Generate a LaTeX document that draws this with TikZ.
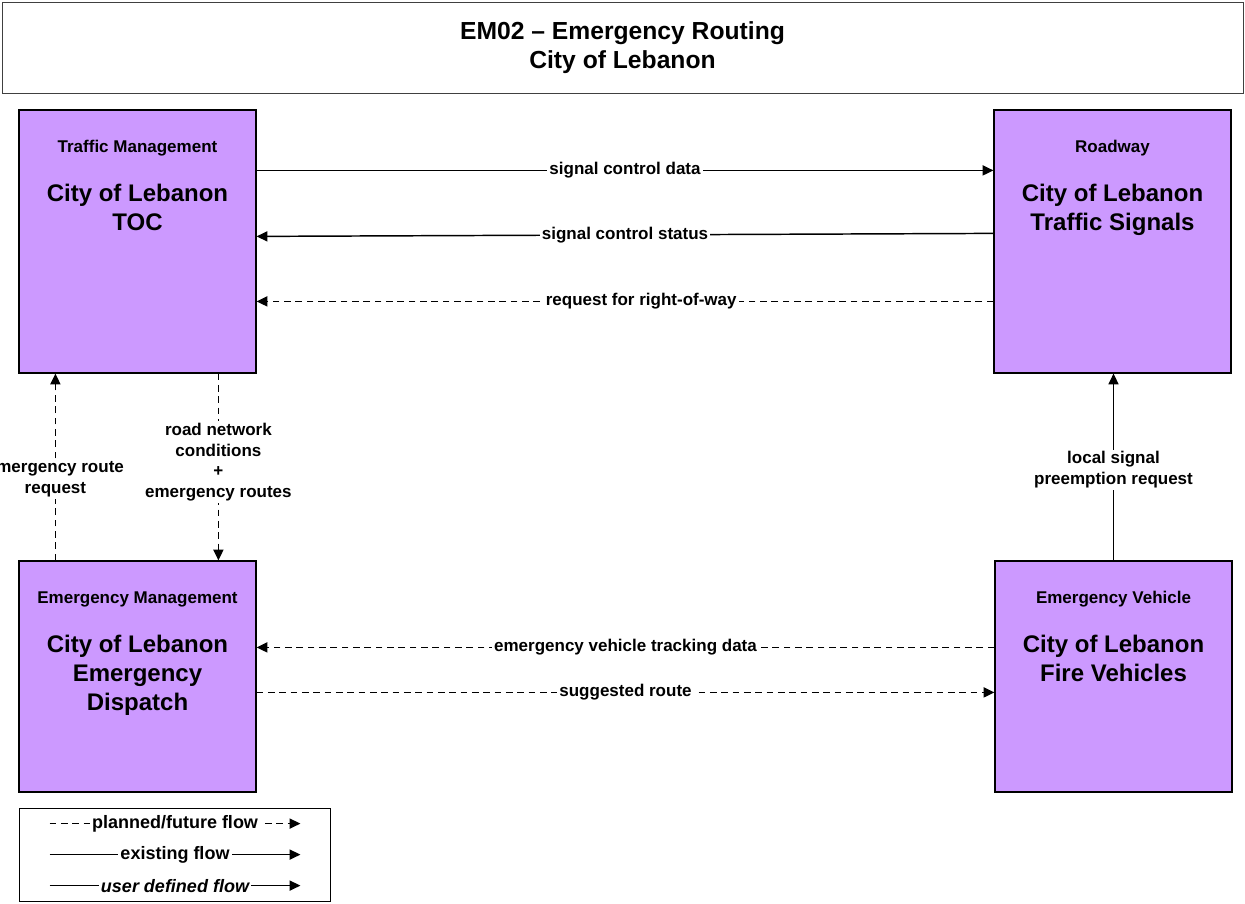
\documentclass[tikz,border=0pt]{standalone}
\usepackage{fontspec}
\setmainfont{Liberation Sans}
\usetikzlibrary{arrows.meta,calc}

\begin{document}
\begin{tikzpicture}[x=0.75pt, y=-0.75pt,
  box/.style={draw=black, line width=0.9pt, fill=cBox, inner sep=0pt,
    minimum width=177.75pt},
  catlbl/.style={font=\bfseries\fontsize{12.75}{15.6}\selectfont},
  namelbl/.style={font=\bfseries\fontsize{18}{21.75}\selectfont, align=center},
  flow/.style={line width=1.1pt, -{Triangle[length=8pt,width=7.5pt]}},
  planned/.style={flow, dash pattern=on 5pt off 3.5pt},
  flowlbl/.style={fill=white, inner sep=1.5pt, align=center,
    font=\bfseries\fontsize{12.75}{15.6}\selectfont},
  legendlbl/.style={flowlbl, font=\bfseries\fontsize{13.5}{16}\selectfont}]

% --- colors ---
\definecolor{cBox}{HTML}{CC99FF}

\useasboundingbox (0,0) rectangle (1245,903);

% --- title ---
\node[draw=black!75, line width=0.6pt, inner sep=0pt, align=center,
      minimum width=930.75pt, minimum height=68.25pt,
      font=\bfseries\fontsize{18.5}{21.75}\selectfont]
  (title) at (622.5,47.5) {EM02 – Emergency Routing\\City of Lebanon};

% --- elements ---
\node[box, minimum height=197.25pt] (toc)  at (137.5,241.5)  {};
\node[box, minimum height=197.25pt] (sig)  at (1112.5,241.5) {};
\node[box, minimum height=173.25pt] (disp) at (137.5,676.5)  {};
\node[box, minimum height=173.25pt] (fire) at (1113.5,676.5) {};

\foreach \bx/\cat/\name/\dy in
  {toc/Traffic Management/{City of Lebanon\\TOC}/98,
   sig/Roadway/{City of Lebanon\\Traffic Signals}/100.5,
   disp/Emergency Management/{City of Lebanon\\Emergency\\Dispatch}/115,
   fire/Emergency Vehicle/{City of Lebanon\\Fire Vehicles}/98}{%
  \node[catlbl]  (\bx cat)  at ($(\bx.north)+(0,39)$)  {\cat};
  \node[namelbl] (\bx name) at ($(\bx.north)+(0,\dy)$) {\name};
}

% --- flows ---
\draw[flow] ($(toc.north east)+(0,61)$) --
  node[flowlbl] {signal control data} ($(sig.north west)+(0,61)$);
\draw[flow] ($(sig.north west)+(0,124)$) --
  node[flowlbl] {signal control status} ($(toc.north east)+(0,127)$);
\draw[planned] ($(sig.north west)+(0,192)$) --
  node[flowlbl, pos=0.478] {request for right-of-way} ($(toc.north east)+(0,192)$);

\draw[planned] ($(disp.north west)+(37,0)$) --
  node[flowlbl, pos=0.436] {emergency route\\request} ($(toc.south west)+(37,0)$);
\draw[planned] ($(toc.south west)+(200,0)$) --
  node[flowlbl, pos=0.474] {road network\\conditions\\+\\emergency routes}
  ($(disp.north west)+(200,0)$);
\draw[flow] (fire.north) --
  node[flowlbl, pos=0.484] {local signal\\preemption request} (fire.north |- sig.south);

\draw[planned] ($(fire.north west)+(0,87)$) --
  node[flowlbl] {emergency vehicle tracking data} ($(disp.north east)+(0,87)$);
\draw[planned] ($(disp.north east)+(0,132)$) --
  node[flowlbl] {suggested route} ($(fire.north west)+(0,132)$);

% --- legend ---
\node[draw=black, line width=0.6pt, inner sep=0pt,
      minimum width=233.25pt, minimum height=69.75pt]
  (legend) at (174.5,854.5) {};

\foreach \sty/\txt/\dy [count=\i] in
  {planned/{planned/future flow}/16,
   flow/{existing flow}/47,
   flow/{\itshape user defined flow}/78}{%
  \coordinate (lga\i) at ($(legend.north west)+(31,\dy)$);
  \coordinate (lgb\i) at ($(legend.north east)+(-30,\dy)$);
  \draw[\sty] (lga\i) -- node[legendlbl] {\txt} (lgb\i);
}

\end{tikzpicture}
\end{document}
